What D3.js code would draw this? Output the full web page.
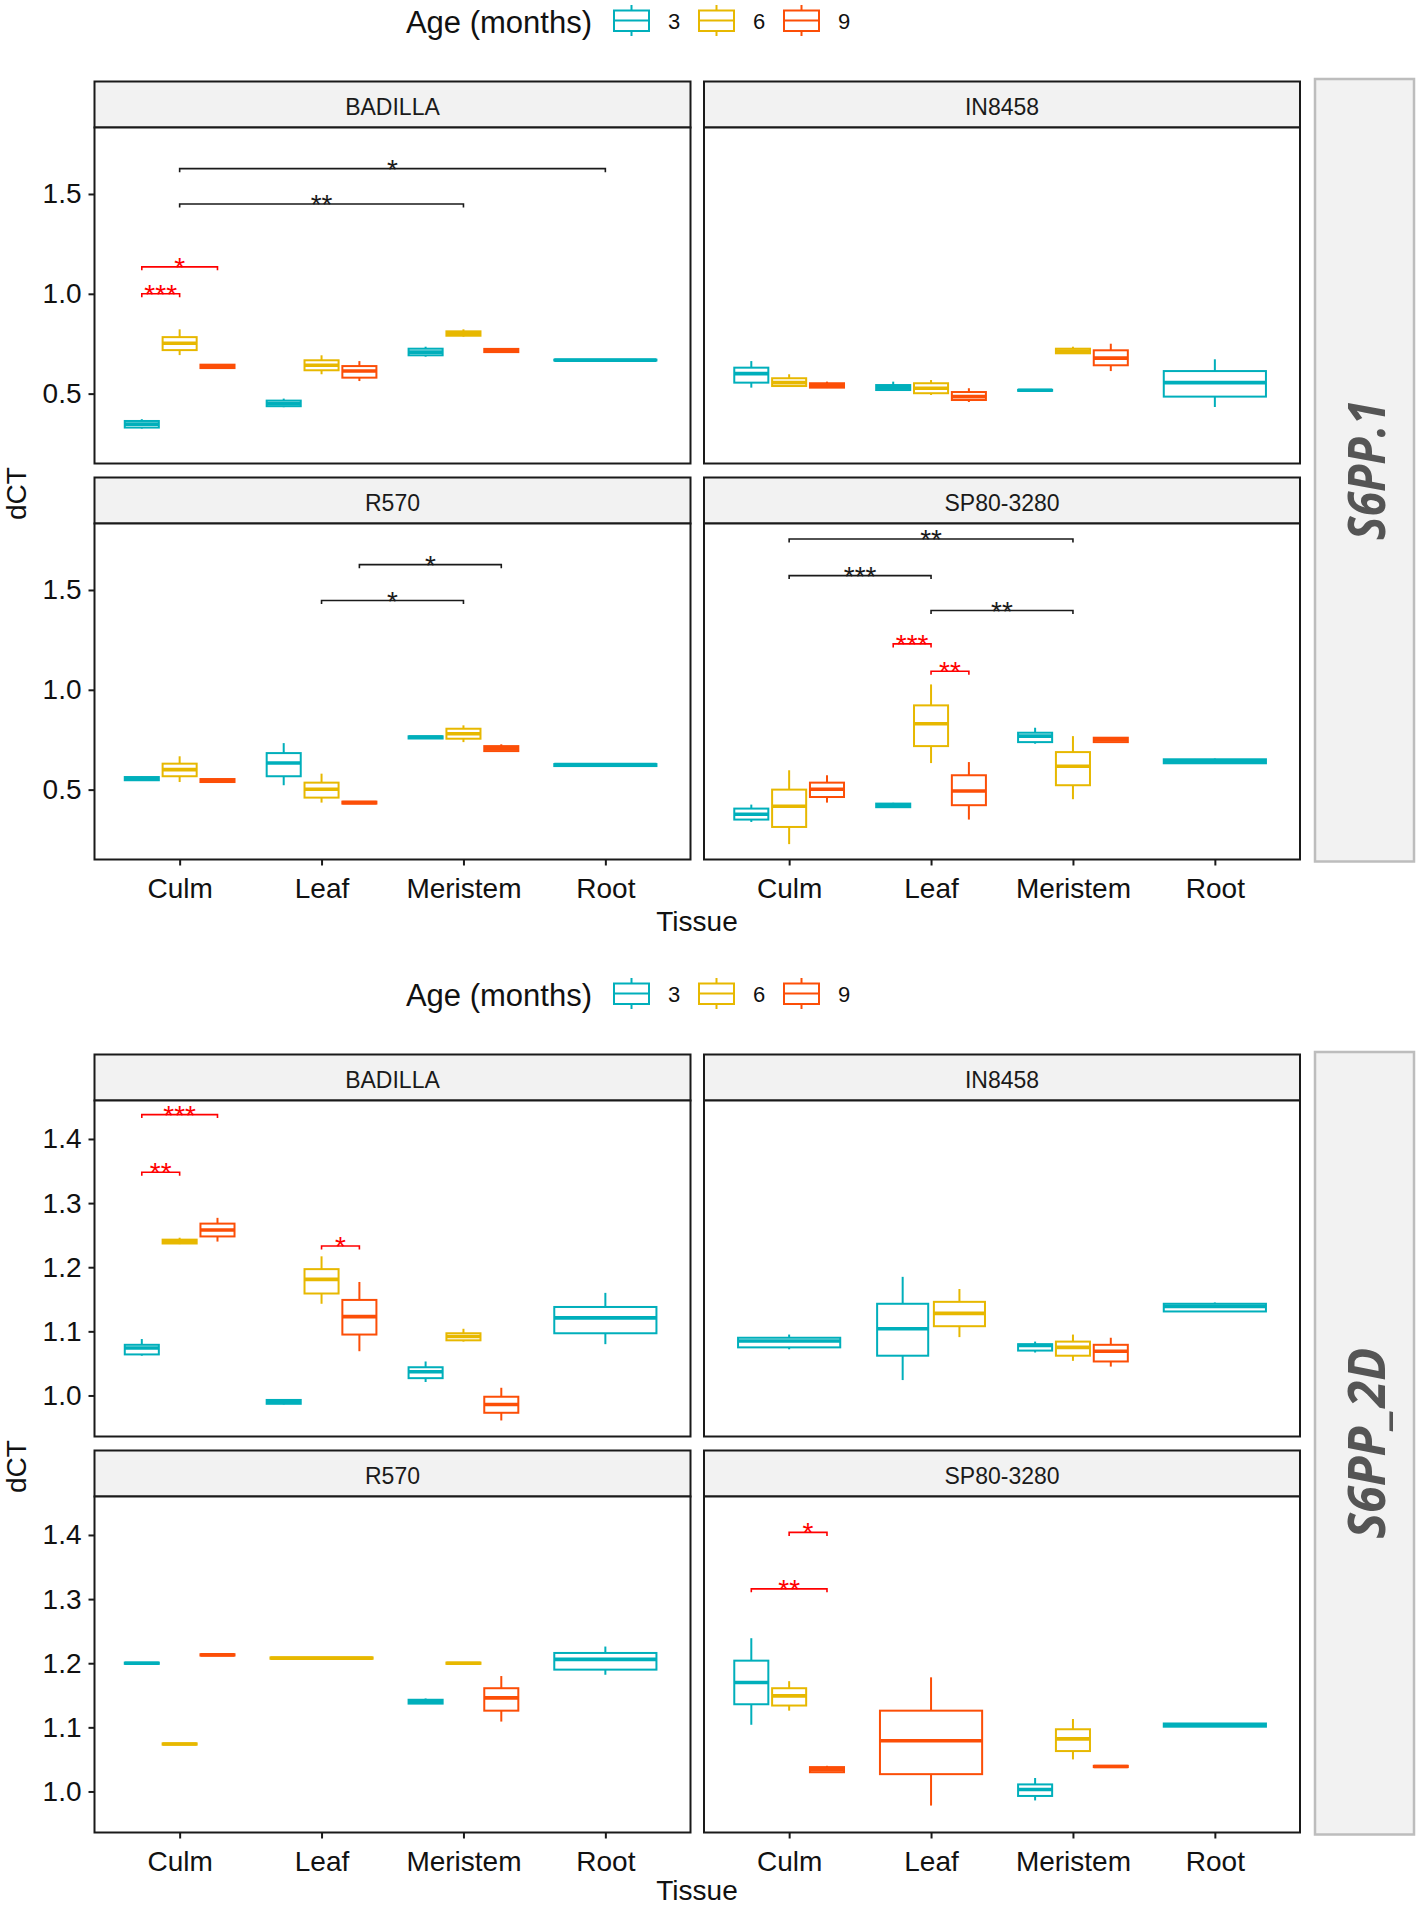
<!DOCTYPE html>
<html><head><meta charset="utf-8">
<script src="https://cdn.jsdelivr.net/npm/d3@7"></script>
<style>body{margin:0;background:#fff}</style>
</head><body><svg id="c" width="1418" height="1906"></svg>
<script>
const tissues = ["Culm","Leaf","Meristem","Root"];
const ages = ["3","6","9"];
const ageColors = ["#00AFBB","#E7B800","#FC4E07"];
const cultivars = ["BADILLA","IN8458","R570","SP80-3280"];
const genes = ["S6PP.1","S6PP_2D"];
const legendTitle = "Age (months)";
const xTitle = "Tissue";
const yTitle = "dCT";
const yTicksS6PP1 = [0.5,1.0,1.5];
const yTicksS6PP2D = [1.0,1.1,1.2,1.3,1.4];
const yDomainS6PP1 = [0.15,1.833];
const yDomainS6PP2D = [0.936,1.46];

// [cultivar, tissue, age, lowerWhisker, q1, median, q3, upperWhisker]
const boxesS6PP1 = [
 ["BADILLA","Culm","3",0.325,0.33,0.347,0.363,0.372],
 ["BADILLA","Culm","6",0.693,0.718,0.752,0.783,0.822],
 ["BADILLA","Culm","9",0.625,0.628,0.637,0.645,0.648],
 ["BADILLA","Leaf","3",0.432,0.437,0.45,0.465,0.475],
 ["BADILLA","Leaf","6",0.597,0.617,0.642,0.667,0.692],
 ["BADILLA","Leaf","9",0.563,0.58,0.613,0.638,0.663],
 ["BADILLA","Meristem","3",0.685,0.692,0.708,0.725,0.735],
 ["BADILLA","Meristem","6",0.785,0.79,0.80,0.812,0.822],
 ["BADILLA","Meristem","9",0.706,0.708,0.717,0.724,0.726],
 ["BADILLA","Root","3",0.665,0.666,0.668,0.670,0.671],
 ["IN8458","Culm","3",0.53,0.555,0.60,0.63,0.663],
 ["IN8458","Culm","6",0.535,0.538,0.555,0.577,0.597],
 ["IN8458","Culm","9",0.528,0.53,0.542,0.552,0.56],
 ["IN8458","Leaf","3",0.515,0.518,0.53,0.543,0.56],
 ["IN8458","Leaf","6",0.493,0.502,0.527,0.552,0.568],
 ["IN8458","Leaf","9",0.458,0.468,0.485,0.508,0.527],
 ["IN8458","Meristem","3",0.512,0.514,0.517,0.519,0.52],
 ["IN8458","Meristem","6",0.70,0.702,0.713,0.725,0.735],
 ["IN8458","Meristem","9",0.613,0.642,0.678,0.717,0.75],
 ["IN8458","Root","3",0.433,0.485,0.555,0.613,0.672],
 ["R570","Culm","3",0.545,0.547,0.555,0.563,0.565],
 ["R570","Culm","6",0.538,0.567,0.60,0.63,0.667],
 ["R570","Culm","9",0.537,0.538,0.545,0.553,0.555],
 ["R570","Leaf","3",0.522,0.567,0.633,0.683,0.733],
 ["R570","Leaf","6",0.435,0.46,0.502,0.535,0.58],
 ["R570","Leaf","9",0.428,0.43,0.435,0.44,0.442],
 ["R570","Meristem","3",0.755,0.756,0.763,0.767,0.768],
 ["R570","Meristem","6",0.738,0.755,0.78,0.805,0.822],
 ["R570","Meristem","9",0.692,0.693,0.705,0.718,0.727],
 ["R570","Root","3",0.616,0.618,0.625,0.628,0.63],
 ["SP80-3280","Culm","3",0.338,0.35,0.377,0.405,0.425],
 ["SP80-3280","Culm","6",0.227,0.313,0.417,0.50,0.597],
 ["SP80-3280","Culm","9",0.435,0.463,0.502,0.535,0.572],
 ["SP80-3280","Leaf","3",0.41,0.412,0.42,0.43,0.434],
 ["SP80-3280","Leaf","6",0.633,0.718,0.83,0.922,1.027],
 ["SP80-3280","Leaf","9",0.35,0.422,0.493,0.572,0.638],
 ["SP80-3280","Meristem","3",0.73,0.738,0.768,0.785,0.81],
 ["SP80-3280","Meristem","6",0.452,0.522,0.617,0.688,0.768],
 ["SP80-3280","Meristem","9",0.737,0.738,0.75,0.76,0.762],
 ["SP80-3280","Root","3",0.631,0.632,0.642,0.652,0.656]
];

const boxesS6PP2D = [
 ["BADILLA","Culm","3",1.062,1.064,1.074,1.079,1.088],
 ["BADILLA","Culm","6",1.236,1.237,1.240,1.243,1.246],
 ["BADILLA","Culm","9",1.24,1.248,1.258,1.268,1.277],
 ["BADILLA","Leaf","3",0.986,0.987,0.99,0.993,0.994],
 ["BADILLA","Leaf","6",1.143,1.159,1.181,1.197,1.217],
 ["BADILLA","Leaf","9",1.069,1.095,1.123,1.149,1.177],
 ["BADILLA","Meristem","3",1.021,1.027,1.037,1.044,1.053],
 ["BADILLA","Meristem","6",1.084,1.086,1.092,1.097,1.104],
 ["BADILLA","Meristem","9",0.961,0.973,0.986,0.998,1.012],
 ["BADILLA","Root","3",1.08,1.097,1.121,1.138,1.16],
 ["IN8458","Culm","3",1.072,1.075,1.085,1.090,1.095],
 ["IN8458","Leaf","3",1.024,1.062,1.104,1.143,1.185],
 ["IN8458","Leaf","6",1.091,1.108,1.128,1.146,1.166],
 ["IN8458","Meristem","3",1.067,1.070,1.078,1.080,1.084],
 ["IN8458","Meristem","6",1.054,1.062,1.075,1.084,1.095],
 ["IN8458","Meristem","9",1.045,1.053,1.069,1.079,1.090],
 ["IN8458","Root","3",1.131,1.131,1.139,1.143,1.145],
 ["R570","Culm","3",1.198,1.199,1.2,1.201,1.201],
 ["R570","Culm","6",1.073,1.073,1.074,1.075,1.075],
 ["R570","Culm","9",1.212,1.212,1.213,1.214,1.214],
 ["R570","Leaf","6",1.207,1.207,1.208,1.209,1.209],
 ["R570","Meristem","3",1.137,1.137,1.14,1.143,1.145],
 ["R570","Meristem","6",1.199,1.199,1.2,1.201,1.201],
 ["R570","Meristem","9",1.109,1.126,1.146,1.161,1.18],
 ["R570","Root","3",1.182,1.19,1.206,1.216,1.226],
 ["SP80-3280","Culm","3",1.104,1.136,1.17,1.204,1.239],
 ["SP80-3280","Culm","6",1.126,1.134,1.149,1.161,1.172],
 ["SP80-3280","Culm","9",1.030,1.030,1.034,1.038,1.04],
 ["SP80-3280","Leaf","9",0.978,1.027,1.079,1.126,1.178],
 ["SP80-3280","Meristem","3",0.986,0.993,1.003,1.011,1.021],
 ["SP80-3280","Meristem","6",1.05,1.063,1.082,1.097,1.113],
 ["SP80-3280","Meristem","9",1.038,1.038,1.039,1.04,1.04],
 ["SP80-3280","Root","3",1.101,1.101,1.104,1.106,1.106]
];

// [cultivar, tissueA, ageA ("" = tissue centre), tissueB, ageB, y, label, colour]
const bracketsS6PP1 = [
 ["BADILLA","Culm","","Root","",1.627,"*","black"],
 ["BADILLA","Culm","","Meristem","",1.45,"**","black"],
 ["BADILLA","Culm","3","Culm","9",1.135,"*","red"],
 ["BADILLA","Culm","3","Culm","6",1.0,"***","red"],
 ["R570","Leaf","","Meristem","",1.447,"*","black"],
 ["R570","Leaf","9","Meristem","9",1.627,"*","black"],
 ["SP80-3280","Culm","","Meristem","",1.755,"**","black"],
 ["SP80-3280","Culm","","Leaf","",1.572,"***","black"],
 ["SP80-3280","Leaf","","Meristem","",1.397,"**","black"],
 ["SP80-3280","Leaf","3","Leaf","6",1.23,"***","red"],
 ["SP80-3280","Leaf","6","Leaf","9",1.093,"**","red"]
];
const bracketsS6PP2D = [
 ["BADILLA","Culm","3","Culm","9",1.438,"***","red"],
 ["BADILLA","Culm","3","Culm","6",1.348,"**","red"],
 ["BADILLA","Leaf","6","Leaf","9",1.233,"*","red"],
 ["SP80-3280","Culm","6","Culm","9",1.404,"*","red"],
 ["SP80-3280","Culm","3","Culm","9",1.316,"**","red"]
];

const FONT = "'Liberation Sans', Arial, sans-serif";
const svg = d3.select("#c");
const colX = [94.5, 704];
const panelW = 596;
const rowTop = [81.5, 477.5];
const stripH = 46;
const plotH = 336;
const sectionOffset = [0, 973];
const bracketColors = {black:"#1a1a1a", red:"#FF0000"};

const sections = [
 {gene:genes[0], boxes:boxesS6PP1, brackets:bracketsS6PP1, domain:yDomainS6PP1, ticks:yTicksS6PP1, len:140, titleY:71.5},
 {gene:genes[1], boxes:boxesS6PP2D, brackets:bracketsS6PP2D, domain:yDomainS6PP2D, ticks:yTicksS6PP2D, len:191, titleY:67}
];

function present(boxes, cv, t){
  return ages.filter(a => boxes.some(b => b[0]===cv && b[1]===t && b[2]===a));
}
function dodge(x, boxes, cv, t, a){
  const p = present(boxes, cv, t);
  const n = p.length, i = p.indexOf(a);
  const slot = 0.8 / n;
  return {cx: x(t) + (i - (n-1)/2) * slot * x.step(), w: slot * 0.9 * x.step()};
}

sections.forEach((sec, si) => {
  const g = svg.append("g").attr("transform", `translate(0,${sectionOffset[si]})`);

  // legend
  g.append("text").attr("x", 592).attr("y", 33).attr("text-anchor","end")
    .attr("font-family", FONT).attr("font-size", 31).attr("fill","#111").text(legendTitle);
  const keyX = d3.scalePoint().domain(ages).range([614, 784]);
  ages.forEach((a, ai) => {
    const kx = keyX(a), c = ageColors[ai];
    const k = g.append("g");
    k.append("line").attr("x1", kx+17.5).attr("x2", kx+17.5).attr("y1", 5).attr("y2", 36)
      .attr("stroke", c).attr("stroke-width", 2);
    k.append("rect").attr("x", kx).attr("y", 10.5).attr("width", 35).attr("height", 20.5)
      .attr("fill","#fff").attr("stroke", c).attr("stroke-width", 2);
    k.append("line").attr("x1", kx).attr("x2", kx+35).attr("y1", 20.5).attr("y2", 20.5)
      .attr("stroke", c).attr("stroke-width", 2);
    g.append("text").attr("x", kx+54).attr("y", 29).attr("font-family", FONT)
      .attr("font-size", 22).attr("fill","#111").text(a);
  });

  cultivars.forEach((cv, ci) => {
    const col = ci % 2, row = Math.floor(ci / 2);
    const x0 = colX[col], top = rowTop[row];
    const plotTop = top + stripH, plotBot = plotTop + plotH;
    const x = d3.scalePoint().domain(tissues).range([x0, x0 + panelW]).padding(0.6);
    const y = d3.scaleLinear().domain(sec.domain).range([plotBot, plotTop]);

    // strip
    g.append("rect").attr("x", x0).attr("y", top).attr("width", panelW).attr("height", stripH)
      .attr("fill","#F2F2F2").attr("stroke","#1a1a1a").attr("stroke-width", 2);
    g.append("text").attr("x", x0 + panelW/2).attr("y", top + 33.5).attr("text-anchor","middle")
      .attr("font-family", FONT).attr("font-size", 23).attr("fill","#1a1a1a").text(cv);

    g.append("rect").attr("x", x0).attr("y", plotTop).attr("width", panelW).attr("height", plotH)
      .attr("fill","#fff");

    // boxes
    const data = sec.boxes.filter(b => b[0] === cv);
    data.forEach(b => {
      const [, t, a, lo, q1, med, q3, hi] = b;
      const c = ageColors[ages.indexOf(a)];
      const d = dodge(x, sec.boxes, cv, t, a);
      const bg = g.append("g");
      bg.append("line").attr("x1", d.cx).attr("x2", d.cx).attr("y1", y(hi)).attr("y2", y(q3))
        .attr("stroke", c).attr("stroke-width", 2);
      bg.append("line").attr("x1", d.cx).attr("x2", d.cx).attr("y1", y(q1)).attr("y2", y(lo))
        .attr("stroke", c).attr("stroke-width", 2);
      bg.append("rect").attr("x", d.cx - d.w/2).attr("y", y(q3)).attr("width", d.w)
        .attr("height", Math.max(0.01, y(q1) - y(q3)))
        .attr("fill","#fff").attr("stroke", c).attr("stroke-width", 2);
      bg.append("line").attr("x1", d.cx - d.w/2).attr("x2", d.cx + d.w/2)
        .attr("y1", y(med)).attr("y2", y(med)).attr("stroke", c).attr("stroke-width", 3.6);
    });

    // brackets
    sec.brackets.filter(br => br[0] === cv).forEach(br => {
      const [, tA, aA, tB, aB, yv, lab, col2] = br;
      const xa = aA ? dodge(x, sec.boxes, cv, tA, aA).cx : x(tA);
      const xb = aB ? dodge(x, sec.boxes, cv, tB, aB).cx : x(tB);
      const yy = y(yv), c = bracketColors[col2];
      g.append("path").attr("d", `M${xa},${yy+3.5}V${yy}H${xb}V${yy+3.5}`)
        .attr("fill","none").attr("stroke", c).attr("stroke-width", 1.6);
      g.append("text").attr("x", (xa + xb)/2).attr("y", yy + 10).attr("text-anchor","middle")
        .attr("font-family", FONT).attr("font-size", 28).attr("fill", c).text(lab);
    });

    // border
    g.append("rect").attr("x", x0).attr("y", plotTop).attr("width", panelW).attr("height", plotH)
      .attr("fill","none").attr("stroke","#1a1a1a").attr("stroke-width", 2);

    if (col === 0) {
      const ax = g.append("g").attr("transform", `translate(${x0},0)`)
        .call(d3.axisLeft(y).tickValues(sec.ticks).tickFormat(d3.format(".1f")).tickSize(6).tickPadding(7));
      ax.select(".domain").remove();
      ax.selectAll("line").attr("stroke","#1a1a1a").attr("stroke-width", 2);
      ax.selectAll("text").attr("font-family", FONT).attr("font-size", 28).attr("fill","#111");
    }
    if (row === 1) {
      const ax = g.append("g").attr("transform", `translate(0,${plotBot})`)
        .call(d3.axisBottom(x).tickSize(6).tickPadding(12.8));
      ax.select(".domain").remove();
      ax.selectAll("line").attr("stroke","#1a1a1a").attr("stroke-width", 2);
      ax.selectAll("text").attr("font-family", FONT).attr("font-size", 28).attr("fill","#111");
    }
  });

  // axis titles
  const plotsTop = rowTop[0] + stripH, plotsBot = rowTop[1] + stripH + plotH;
  g.append("text").attr("transform", `translate(26,${(plotsTop + plotsBot)/2}) rotate(-90)`)
    .attr("text-anchor","middle").attr("font-family", FONT).attr("font-size", 28).attr("fill","#111").text(yTitle);
  g.append("text").attr("x", 697).attr("y", plotsBot + sec.titleY).attr("text-anchor","middle")
    .attr("font-family", FONT).attr("font-size", 28).attr("fill","#111").text(xTitle);

  // gene strip on the right
  g.append("rect").attr("x", 1315).attr("y", 79).attr("width", 99).attr("height", plotsBot + 2 - 79)
    .attr("fill","#F2F2F2").attr("stroke","#BDBDBD").attr("stroke-width", 2.5);
  g.append("text").attr("transform", `translate(1385,${(79 + plotsBot + 2)/2}) rotate(-90)`)
    .attr("text-anchor","middle").attr("font-family","'Open Sans', sans-serif").attr("font-weight", 700)
    .attr("font-style","italic").attr("font-size", 52).attr("fill","#555")
    .attr("textLength", sec.len).attr("lengthAdjust","spacingAndGlyphs").text(sec.gene);
});
</script></body></html>
